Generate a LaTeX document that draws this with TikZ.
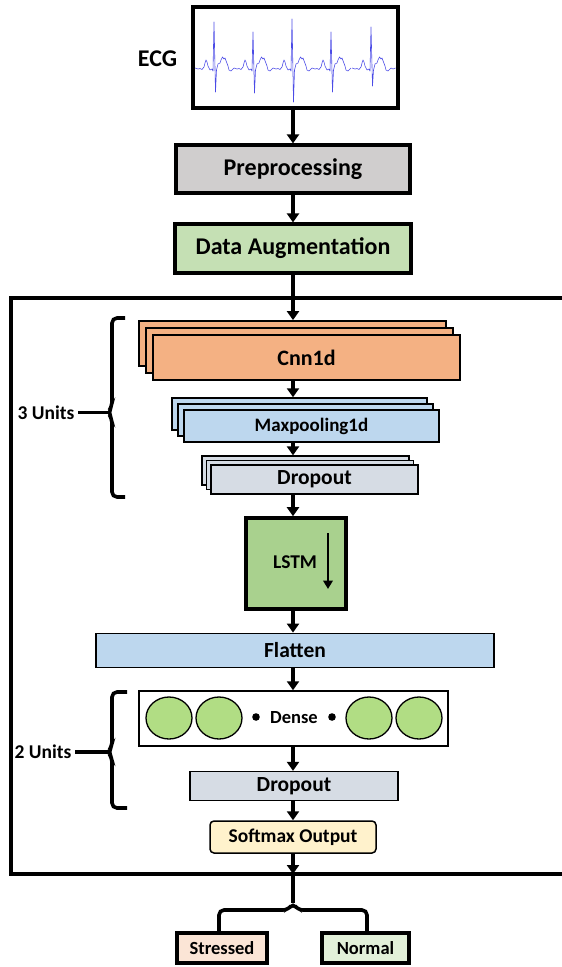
\documentclass[tikz,border=0pt]{standalone}
\usepackage{fontspec}
\setmainfont{Carlito}
\usetikzlibrary{arrows.meta,shapes.geometric}
\definecolor{ecgblue}{HTML}{4B4BE6}
\definecolor{preg}{HTML}{D0CECE}
\definecolor{augg}{HTML}{C5E0B4}
\definecolor{cnno}{HTML}{F4B183}
\definecolor{lblue}{HTML}{BDD7EE}
\definecolor{dropg}{HTML}{D6DCE4}
\definecolor{lstmg}{HTML}{A9D18E}
\definecolor{cellg}{HTML}{B1DD84}
\definecolor{softy}{HTML}{FFF2CC}
\definecolor{stro}{HTML}{FBE5D6}
\definecolor{normg}{HTML}{E2F0D9}
\newcommand\bsz[1]{\fontsize{#1}{#1}\selectfont\bfseries}

\begin{document}
\begin{tikzpicture}[x=1pt,y=-1pt,
  box/.style={draw, inner sep=0pt, text=black},
  flow/.style={line width=3.3pt, -{Triangle[width=12pt,length=9pt]}},
  plain/.style={line width=3.5pt},
  brk/.style={line width=3.6pt, rounded corners=5pt},
  ecgline/.style={draw=ecgblue, line width=0.6pt, line join=round}]
\useasboundingbox (0,0) rectangle (562,967);

% common vertical axis of the connectors
\coordinate (ax) at (293,0);

% ECG input
\node[box, line width=3.2pt, minimum width=205pt, minimum height=101pt] (ecg) at (295.5,57.5) {};
\node[font=\bsz{24}] (ecglbl) at (157.5,59) {ECG};
\foreach \rx/\rt/\sb in {214/22/92, 253/32/93, 292/19/102, 331/32/92, 371/27/86}{
  \draw[ecgline] ({\rx-19},68) -- ({\rx-16},69) -- ({\rx-14},68.5) -- ({\rx-12},69.5) -- ({\rx-10},67)
    -- ({\rx-9},63) -- ({\rx-8},60) -- ({\rx-7},62) -- ({\rx-6},66) -- ({\rx-4},70) -- ({\rx-2},69)
    -- ({\rx-1},71) -- (\rx,\rt) -- ({\rx+1.5},\sb) -- ({\rx+2.5},70) -- ({\rx+4},64) -- ({\rx+6},63)
    -- ({\rx+7},60) -- ({\rx+8.5},57) -- ({\rx+10},59) -- ({\rx+11},58) -- ({\rx+12.5},62)
    -- ({\rx+14},66) -- ({\rx+15},70) -- ({\rx+17},71) -- ({\rx+18},70) -- ({\rx+20},68);
}
\draw[ecgline] (391,68) -- (393,69) -- (395.5,68);

% preprocessing stages
\node[box, line width=3.2pt, fill=preg, minimum width=234pt, minimum height=48pt, font=\bsz{24}] (pre) at (293,169) {Preprocessing};
\node[box, line width=3.2pt, fill=augg, minimum width=236pt, minimum height=49pt, font=\bsz{24}] (aug) at (293,248.5) {Data Augmentation};

% model frame
\draw[line width=3.3pt] (563,298) -- (11,298) -- (11,874) -- (563,874);

% Cnn1d stack
\node[box, line width=1.8pt, fill=cnno, minimum width=307pt, minimum height=45pt] (cnnA) at (292.5,343.5) {};
\node[box, line width=1.8pt, fill=cnno, minimum width=307pt, minimum height=45pt] (cnnB) at (299.5,350.5) {};
\node[box, line width=1.8pt, fill=cnno, minimum width=307pt, minimum height=45pt, font=\bsz{22}] (cnn) at (306.5,357.5) {Cnn1d};

% Maxpooling1d stack
\node[box, line width=1.5pt, fill=lblue, minimum width=255pt, minimum height=32pt] (mpA) at (299.5,414) {};
\node[box, line width=1.5pt, fill=lblue, minimum width=255pt, minimum height=32pt] (mpB) at (305.5,420) {};
\node[box, line width=1.5pt, fill=lblue, minimum width=255pt, minimum height=32pt, font=\bsz{19}] (mp) at (311.5,426) {Maxpooling1d};

% Dropout stack
\node[box, line width=1.3pt, fill=dropg, minimum width=207pt, minimum height=29pt] (dpA) at (305.5,470.5) {};
\node[box, line width=1.3pt, fill=dropg, minimum width=207pt, minimum height=29pt] (dpB) at (310,475) {};
\node[box, line width=1.3pt, fill=dropg, minimum width=207pt, minimum height=29pt, font=\bsz{21.5}] (dp) at (314.5,479.5) {Dropout};

% LSTM
\node[box, line width=3.6pt, fill=lstmg, minimum width=100pt, minimum height=91pt] (lstm) at (296,563.5) {};
\node[font=\bsz{19.5}] (lstmlbl) at (295,562) {LSTM};
\coordinate (lstmA) at (328,533);
\coordinate (lstmB) at (328,589);
\draw[line width=2.2pt, -{Triangle[width=9.5pt,length=8.5pt]}] (lstmA) -- (lstmB);

% Flatten
\node[box, line width=1.8pt, fill=lblue, minimum width=398pt, minimum height=34pt, font=\bsz{21.5}] (flat) at (295,650.5) {Flatten};

% Dense layer
\node[box, line width=1.5pt, fill=white, minimum width=309pt, minimum height=55pt] (dense) at (293.5,718.5) {};
\foreach \cx/\nm in {169/c1, 219/c2, 369/c3, 419/c4}{
  \node[draw, line width=1.3pt, fill=cellg, ellipse, minimum width=46pt, minimum height=42pt, inner sep=0pt] (\nm) at (\cx,718) {};
}
\fill (256,717) circle (3.8pt);
\fill (332,717) circle (3.8pt);
\node[font=\bsz{18.5}] (denselbl) at (294,718) {Dense};

% second Dropout and Softmax
\node[box, line width=1.3pt, fill=dropg, minimum width=208pt, minimum height=29pt, font=\bsz{21.5}] (dp2) at (294,786) {Dropout};
\node[box, line width=1.5pt, fill=softy, rounded corners=4pt, minimum width=166pt, minimum height=32pt, font=\bsz{19.5}] (soft) at (293,837) {Softmax Output};

% unit braces
\draw[brk] (125,318) -- (112,318) -- (112,406) -- (108,412.5) -- (112,419) -- (112,497) -- (125,497);
\coordinate (tipA) at (108,412.5);
\node[font=\bsz{19.5}, anchor=east] (units3) at (78,412.5) {3 Units};
\draw[plain] (units3.east) -- (tipA);
\draw[brk] (127,692) -- (112,692) -- (112,746) -- (108,752) -- (112,758) -- (112,808) -- (127,808);
\coordinate (tipB) at (108,752);
\node[font=\bsz{19.5}, anchor=east] (units2) at (75,752) {2 Units};
\draw[plain] (units2.east) -- (tipB);

% outputs
\node[box, line width=3.2pt, fill=stro, minimum width=90pt, minimum height=30pt, font=\bsz{18.5}] (str) at (222,948) {Stressed};
\node[box, line width=3.2pt, fill=normg, minimum width=87pt, minimum height=30pt, font=\bsz{18.5}] (nor) at (365.5,948) {Normal};
\coordinate (frameb) at (293,874);
\coordinate (split) at (293,903);
\draw[plain] (frameb) -- (split);
\draw[brk] (str.north -| 219,0) -- (219,910) -- (288,910) -- (split) -- (298,910) -- (367,910) -- (nor.north -| 367,0);

% connectors
\draw[flow] (ecg.south -| ax) -- (pre.north -| ax);
\draw[flow] (pre.south -| ax) -- (aug.north -| ax);
\draw[flow] (aug.south -| ax) -- (cnnA.north -| ax);
\draw[flow] (cnn.south -| ax) -- (mpA.north -| ax);
\draw[flow] (mp.south -| ax) -- (dpA.north -| ax);
\draw[flow] (dp.south -| ax) -- (lstm.north -| ax);
\draw[flow] (lstm.south -| ax) -- (flat.north -| ax);
\draw[flow] (flat.south -| ax) -- (dense.north -| ax);
\draw[flow] (dense.south -| ax) -- (dp2.north -| ax);
\draw[flow] (dp2.south -| ax) -- (soft.north -| ax);
\draw[flow] (soft.south -| ax) -- (frameb);
\end{tikzpicture}
\end{document}
